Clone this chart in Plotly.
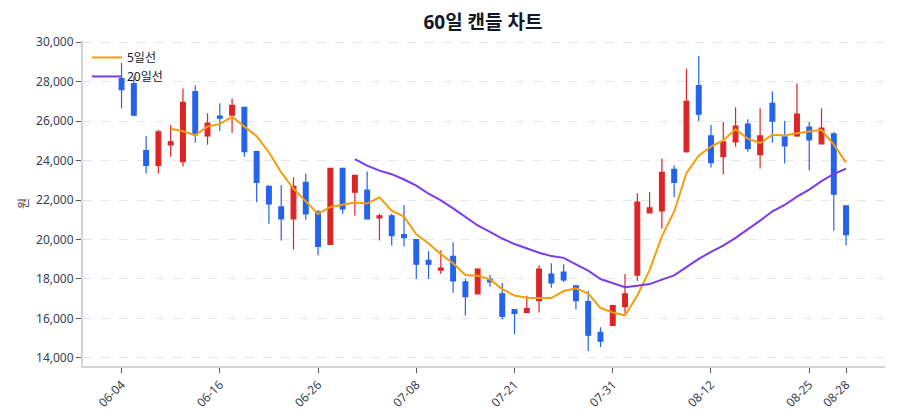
import plotly.graph_objects as go

DATES = [
    "06-04", "06-05", "06-06", "06-09", "06-10", "06-11", "06-12", "06-13", "06-16", "06-17",
    "06-18", "06-19", "06-20", "06-23", "06-24", "06-25", "06-26", "06-27", "06-30", "07-01",
    "07-02", "07-03", "07-04", "07-07", "07-08", "07-09", "07-10", "07-11", "07-14", "07-15",
    "07-16", "07-18", "07-21", "07-22", "07-23", "07-24", "07-25", "07-28", "07-29", "07-30",
    "07-31", "08-01", "08-04", "08-05", "08-06", "08-07", "08-08", "08-11", "08-12", "08-13",
    "08-14", "08-18", "08-19", "08-20", "08-21", "08-22", "08-25", "08-26", "08-27", "08-28",
]
TICK_LABELS = ["06-04", "06-16", "06-26", "07-08", "07-21", "07-31", "08-12", "08-25", "08-28"]

OPEN = [
    28150, 27900, 24500, 23750, 24800, 23950, 27500, 25250, 26250, 26300,
    26700, 24450, 22700, 21650, 21050, 22900, 21400, 19750, 23600, 22400,
    22500, 21100, 21200, 20250, 20000, 18950, 18450, 19150, 17850, 17250,
    18000, 17250, 16450, 16300, 16900, 18250, 18350, 17650, 16850, 15300,
    15650, 16600, 18200, 21350, 21450, 23550, 24450, 27800, 25250, 24200,
    24950, 25850, 24300, 26900, 25200, 25250, 25700, 24850, 25350, 21700,
]
HIGH = [
    28950, 28250, 25250, 25550, 25800, 27650, 27800, 26400, 26900, 27150,
    26700, 24500, 22750, 22750, 23150, 23350, 21500, 23600, 23600, 23250,
    23450, 21300, 21300, 21750, 20000, 19400, 19450, 19850, 18000, 18550,
    18200, 17800, 16450, 17150, 18700, 18800, 18750, 17700, 17400, 15550,
    16700, 18250, 22350, 22400, 24100, 23750, 28650, 29300, 25800, 25950,
    26700, 26100, 26650, 27500, 26000, 27900, 25950, 26650, 25450, 21700,
]
LOW = [
    26650, 26250, 23350, 23350, 24200, 23700, 24900, 24800, 25500, 25400,
    24200, 21900, 20800, 19950, 19500, 21000, 19200, 19750, 21300, 21200,
    21050, 19950, 19700, 19650, 18000, 18000, 18250, 17300, 16150, 17250,
    17600, 15950, 15200, 16300, 16300, 17550, 17850, 16450, 14350, 14550,
    15650, 16250, 17900, 21350, 20550, 22150, 24400, 26000, 23650, 23300,
    24700, 24450, 23600, 24900, 23850, 25200, 23500, 24850, 20450, 19700,
]
CLOSE = [
    27600, 26300, 23750, 25450, 24950, 26950, 25300, 25900, 26150, 26800,
    24450, 22900, 21800, 21050, 22700, 21300, 19650, 23600, 21550, 23250,
    21050, 21200, 20200, 20100, 18750, 18750, 18550, 17900, 17100, 18500,
    17850, 16100, 16250, 16500, 18500, 17800, 17950, 16900, 15150, 14850,
    16650, 17250, 21900, 21600, 23400, 22900, 27000, 26350, 23900, 24950,
    25750, 24600, 25250, 26000, 24750, 26350, 25050, 25650, 22300, 20250,
]

# moving averages (no value before the window fills)
MA5 = [None] * 4 + [
    25610, 25490, 25290, 25720, 25860, 26220, 25720, 25240, 24420, 23400,
    22580, 21940, 21290, 21650, 21750, 21870, 21820, 22140, 21460, 21160,
    20260, 19800, 19260, 18800, 18200, 18160, 17980, 17490, 17160, 17050,
    17040, 17030, 17390, 17530, 17260, 16530, 16300, 16160, 17160, 18450,
    20160, 21410, 23360, 24250, 24710, 25020, 25590, 25110, 24890, 25310,
    25270, 25390, 25470, 25560, 24810, 23910,
]
MA20 = [None] * 19 + [
    24070, 23740, 23490, 23310, 23040, 22730, 22320, 21980, 21580, 21130,
    20710, 20390, 20050, 19770, 19540, 19330, 19160, 19070, 18740, 18420,
    18000, 17780, 17580, 17660, 17740, 17970, 18180, 18600, 19020, 19370,
    19690, 20080, 20510, 20960, 21430, 21750, 22170, 22530, 22960, 23320,
    23590,
]

RED = "#dc2626"
BLUE = "#2563eb"
ORANGE = "#f59e0b"
PURPLE = "#7c3aed"
FONT = "Noto Sans, Noto Sans CJK KR, sans-serif"

fig = go.Figure()
fig.add_trace(
    go.Candlestick(
        x=DATES,
        open=OPEN,
        high=HIGH,
        low=LOW,
        close=CLOSE,
        increasing=dict(line=dict(color=RED, width=1.2), fillcolor=RED),
        decreasing=dict(line=dict(color=BLUE, width=1.2), fillcolor=BLUE),
        whiskerwidth=0,
        showlegend=False,
        name="",
    )
)
fig.add_scatter(x=DATES, y=MA5, mode="lines", name="5일선", line=dict(color=ORANGE, width=2))
fig.add_scatter(x=DATES, y=MA20, mode="lines", name="20일선", line=dict(color=PURPLE, width=2))

# the page body adds an 8px offset, so the figure is sized to fit inside it
fig.update_layout(
    width=892,
    height=412,
    margin=dict(l=75, r=15, t=33, b=54),
    paper_bgcolor="white",
    plot_bgcolor="white",
    font=dict(family=FONT, size=12, color="#374151"),
    title=dict(
        text="<b>60일 캔들 차트</b>",
        x=0.5325,
        xanchor="center",
        y=0.966,
        yanchor="middle",
        font=dict(size=19, color="#111827", family=FONT),
    ),
    legend=dict(
        x=0.005,
        y=0.994,
        xanchor="left",
        yanchor="top",
        bgcolor="rgba(0,0,0,0)",
        font=dict(size=12, color="#111827"),
    ),
    showlegend=True,
    boxgap=0.45,
)
fig.update_xaxes(
    type="category",
    range=[-3.14, 62.17],
    rangeslider_visible=False,
    tickmode="array",
    tickvals=TICK_LABELS,
    ticktext=TICK_LABELS,
    tickangle=-45,
    ticks="outside",
    ticklen=5,
    tickcolor="#4b5563",
    showline=True,
    linecolor="#d1d5db",
    linewidth=2,
    showgrid=False,
    automargin=False,
    tickfont=dict(size=12),
)
fig.update_yaxes(
    range=[13590, 30060],
    tickvals=[14000, 16000, 18000, 20000, 22000, 24000, 26000, 28000, 30000],
    tickformat=",d",
    ticks="outside",
    ticklen=5,
    tickcolor="#4b5563",
    showline=True,
    linecolor="#d1d5db",
    linewidth=2,
    gridcolor="#e5e7eb",
    griddash="dash",
    zeroline=False,
    automargin=False,
    tickfont=dict(size=12),
    title=dict(text="원", standoff=5, font=dict(size=12)),
)

fig.write_html("out.html")
